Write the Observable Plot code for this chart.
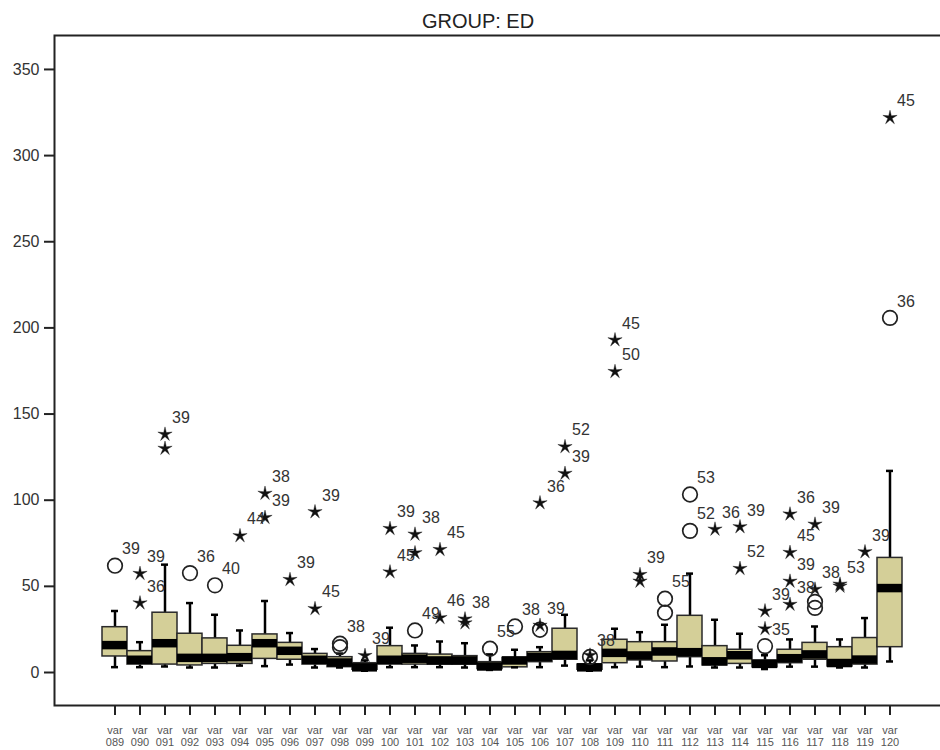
<!DOCTYPE html>
<html><head><meta charset="utf-8">
<script src="https://cdn.jsdelivr.net/npm/d3@7"></script>
<script src="https://cdn.jsdelivr.net/npm/@observablehq/plot@0.6"></script>
<style>
html,body{margin:0;padding:0;background:#fff;}
#wrap{position:relative;width:940px;height:750px;overflow:hidden;font-family:"Liberation Sans",Arial,sans-serif;}
#title{position:absolute;left:8px;top:6px;width:940px;text-align:center;font-size:20px;line-height:30px;color:#222;}
#chart{position:absolute;left:0;top:30px;width:944px;}
#chart svg{max-width:none !important;}
</style></head><body>
<div id="wrap"><div id="title">GROUP: ED</div><div id="chart"></div></div>
<script>
// categories
const vars = ["089","090","091","092","093","094","095","096","097","098","099","100","101","102","103","104",
              "105","106","107","108","109","110","111","112","113","114","115","116","117","118","119","120"];
// box statistics (whisker low, Q1, median, Q3, whisker high)
const lo  = [3.1,3.1,3.5,2.9,2.9,4,3.7,4.6,2.9,2.9,1,3.1,3.1,3.1,2.9,1.5,3,3.1,4,1,3.1,3.4,3.1,3.5,2.9,2.9,2,3.4,3.4,2.9,2.9,6.4];
const q1  = [9.3,4.6,4.6,4.1,5,5,7.9,7.4,4.6,3.1,1.6,4.6,4.6,4.6,4.6,2,3,6,7.4,1.6,5.4,7,6.4,8.9,4.1,5,3,5.4,7.4,3.5,4.6,14.7];
const med = [15.9,7.4,17,8.5,8.5,8.9,17,12.6,7.4,5.8,3,7.4,8,7,7,3.5,7,9,10.2,3,11.4,9.9,12.2,11.8,6.5,10,5,8.3,10.5,5.5,7.5,49];
const q3  = [26.3,12.4,34.7,22.5,19.8,15.5,22.1,17.2,10.8,8.9,5.4,15.3,10.8,10.4,9.5,6,8.5,11.8,25.4,4.6,19,17.6,17.6,32.9,15.3,13.2,7,13.2,17.2,14.7,20,66.5];
const hi  = [35.7,17.6,62.6,40.3,33.5,24.4,41.5,22.9,13.6,11,7,26,15.7,18,17,10.5,13.2,14.7,33.5,7,25.4,23.4,27.7,57.4,30.6,22.5,10,19.2,26.7,19.2,31.6,117];
// outliers: circles
const circVar = ["089","092","093","098","098","101","104","105","106","108","111","111","112","112","115","117","117","120"];
const circVal = [62,57.7,50.6,16.7,14.7,24.4,13.8,26.7,24.8,9,42.8,34.7,103.3,82.2,15.3,41,37.5,205.8];
const circLab = ["39","36","40","38","","49","55","38","","38","55","","53","52","35","","","36"];
// outliers: extremes (stars)
const starVar = ["090","090","091","091","094","095","095","096","097","097","099","100","100","101","101","102","102","103","103",
                 "106","106","107","107","108","109","109","110","110","113","114","114","115","115","116","116","116","116",
                 "117","117","118","118","119","120"];
const starVal = [57.4,40.3,138.2,130,79.3,103.9,89.9,53.9,93.2,37,9.8,83.5,58.3,80.2,69.4,71.3,31.8,31,28.7,
                 98.4,27.3,131,115.5,10,193,174.6,56.8,52.9,83.1,84.5,60.3,35.7,25.4,91.9,69.6,52.9,39.5,
                 86,48.3,51.2,50,70,322];
const starLab = ["39","36","39","","44","38","39","39","39","45","39","39","45","38","","45","46","38","",
                 "36","39","52","39","","45","50","39","","36","39","52","39","","36","45","39","38",
                 "39","38","53","","39","45"];
const yTicks = [0,50,100,150,200,250,300,350];

const stats = vars.map((v,i)=>({name:v, lo:lo[i], q1:q1[i], med:med[i], q3:q3[i], hi:hi[i]}));
const circles = circVar.map((v,i)=>({name:v, value:circVal[i], label:circLab[i]}));
const stars = starVar.map((v,i)=>({name:v, value:starVal[i], label:starLab[i]}));
const labeled = circles.concat(stars).filter(d=>d.label !== "");

const starSymbol = {
  draw(context, size) {
    const R = Math.sqrt(size / Math.PI), r = R * 0.3;
    for (let k = 0; k < 10; k++) {
      const a = -Math.PI/2 + k*Math.PI/5, rad = k % 2 ? r : R;
      const x = rad*Math.cos(a), y = rad*Math.sin(a);
      if (k === 0) context.moveTo(x, y); else context.lineTo(x, y);
    }
    context.closePath();
  }
};

const chart = Plot.plot({
  width: 944, height: 720,
  marginTop: 5, marginBottom: 45, marginLeft: 54, marginRight: 0,
  style: {fontFamily: '"Liberation Sans", Arial, sans-serif', background: "#fff", maxWidth: "none"},
  x: {type: "band", domain: vars, range: [99.1, 904.3], padding: 0},
  y: {domain: [-19.15, 369.7]},
  marks: [
    Plot.frame({stroke: "#222", strokeWidth: 2}),
    Plot.axisY({ticks: yTicks, tickSize: 10, tickPadding: 5, fontSize: 16, stroke: "#222", fill: "#333", strokeWidth: 2, label: null}),
    Plot.axisX({tickSize: 10, tickPadding: 10, fontSize: 11, lineHeight: 1.1, tickFormat: d => "var\n" + d,
                stroke: "#222", fill: "#555", strokeWidth: 2, label: null}),
    Plot.ruleX(stats, {x: "name", y1: "q3", y2: "hi", stroke: "#000", strokeWidth: 2.5}),
    Plot.ruleX(stats, {x: "name", y1: "lo", y2: "q1", stroke: "#000", strokeWidth: 2.5}),
    Plot.barY(stats, {x: "name", y1: "q1", y2: "q3", fill: "#D4CF98", stroke: "#2a2a2a", strokeWidth: 1.5}),
    Plot.tickY(stats, {x: "name", y: "med", stroke: "#000", strokeWidth: 8.5}),
    Plot.tickY(stats, {x: "name", y: "hi", insetLeft: 9, insetRight: 9, stroke: "#000", strokeWidth: 2.5}),
    Plot.tickY(stats, {x: "name", y: "lo", insetLeft: 9, insetRight: 9, stroke: "#000", strokeWidth: 2.5}),
    Plot.dot(circles, {x: "name", y: "value", r: 7.3, stroke: "#222", strokeWidth: 1.7, fill: "none"}),
    Plot.dot(stars, {x: "name", y: "value", r: 7.5, symbol: starSymbol, fill: "#111", stroke: "#111", strokeWidth: 0.4}),
    Plot.text(labeled, {x: "name", y: "value", text: "label", dx: 7, dy: -16.5, textAnchor: "start", fontSize: 16, fill: "#333"})
  ]
});
document.getElementById("chart").appendChild(chart);
</script>
</body></html>
